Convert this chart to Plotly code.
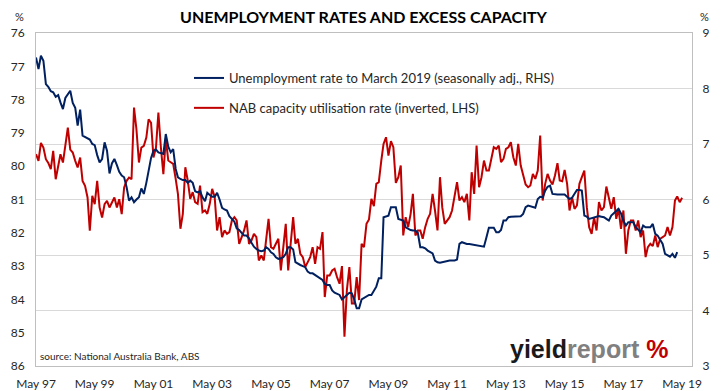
import pandas as pd
import plotly.graph_objects as go

# ---------------- data (monthly, starting May 1997) ----------------
unemployment = [
    8.56, 8.35, 8.59, 8.50, 8.08, 8.03, 7.95, 7.93, 7.85, 7.88, 7.75, 7.63,
    7.83, 7.90, 7.96, 7.74, 7.65, 7.33, 7.62, 7.15, 7.13, 7.11, 7.08, 7.00,
    6.98, 6.80, 6.67, 6.73, 7.03, 6.88, 6.47, 6.65, 6.73, 6.62, 6.50, 6.43,
    6.40, 6.22, 5.98, 6.04, 5.95, 6.00, 6.04, 6.20, 6.10, 6.30, 6.55, 6.75,
    6.88, 6.90, 6.85, 6.84, 6.82, 7.18, 6.95, 6.85, 6.91, 6.55, 6.40, 6.37,
    6.35, 6.35, 6.30, 6.34, 6.30, 6.15, 6.13, 6.15, 6.04, 5.97, 6.12, 6.08,
    6.05, 6.05, 6.12, 6.00, 5.85, 5.82, 5.80, 5.70, 5.65, 5.60, 5.48, 5.45,
    5.40, 5.35, 5.35, 5.30, 5.22, 5.15, 5.11, 5.08, 5.07, 5.08, 5.14, 5.11,
    5.05, 5.02, 4.96, 4.93, 4.94, 4.96, 5.02, 5.14, 5.14, 5.10, 4.87, 4.84,
    4.82, 4.80, 4.78, 4.70, 4.67, 4.67, 4.64, 4.60, 4.58, 4.55, 4.48, 4.46,
    4.46, 4.36, 4.32, 4.30, 4.28, 4.20, 4.24, 4.28, 4.32, 4.31, 4.20, 4.04,
    4.04, 4.20, 4.23, 4.25, 4.28, 4.28, 4.35, 4.43, 4.58, 4.58, 5.68, 5.70,
    5.71, 5.86, 5.86, 5.86, 5.65, 5.63, 5.62, 5.50, 5.47, 5.45, 5.44, 5.44,
    5.40, 5.14, 5.14, 5.12, 5.08, 5.05, 5.03, 4.90, 4.87, 4.86, 4.87, 4.88,
    4.90, 4.90, 4.90, 4.90, 4.92, 5.20, 5.23, 5.21, 5.20, 5.20, 5.19, 5.18,
    5.18, 5.17, 5.16, 5.15, 5.32, 5.49, 5.49, 5.49, 5.41, 5.41, 5.45, 5.62,
    5.62, 5.68, 5.69, 5.69, 5.69, 5.69, 5.70, 5.74, 5.86, 5.89, 5.88, 5.86,
    5.85, 6.01, 6.05, 6.04, 6.16, 6.23, 6.25, 6.10, 6.09, 6.09, 6.09, 6.09,
    6.09, 6.05, 6.01, 6.03, 6.10, 6.17, 6.17, 6.16, 5.71, 5.69, 5.65, 5.66,
    5.68, 5.69, 5.70, 5.69, 5.68, 5.65, 5.62, 5.71, 5.75, 5.80, 5.83, 5.75,
    5.62, 5.53, 5.59, 5.59, 5.59, 5.50, 5.45, 5.41, 5.53, 5.50, 5.50, 5.50,
    5.56, 5.38, 5.35, 5.27, 5.20, 5.02, 5.00, 4.97, 5.02, 4.95, 5.05,
]

capacity_utilisation = [
    79.64, 79.84, 79.30, 79.44, 79.79, 79.90, 80.09, 79.54, 80.39, 80.04, 79.64, 79.89,
    79.44, 78.84, 79.50, 79.59, 79.84, 80.04, 79.74, 80.44, 80.59, 80.94, 81.94, 80.89,
    81.14, 80.44, 81.24, 81.54, 81.14, 81.04, 81.24, 81.10, 80.94, 81.24, 80.99, 81.44,
    80.64, 80.44, 80.34, 80.39, 78.24, 78.89, 79.89, 79.44, 79.39, 79.14, 78.59, 78.70,
    79.74, 79.44, 78.39, 79.44, 80.24, 79.18, 79.83, 79.88, 79.93, 80.38, 80.83, 81.88,
    81.43, 80.03, 80.43, 80.98, 80.78, 81.08, 81.13, 80.58, 81.38, 81.33, 81.43, 81.13,
    80.68, 80.93, 81.93, 81.53, 82.13, 81.93, 82.03, 81.98, 81.63, 81.53, 81.63, 82.33,
    82.13, 81.93, 81.63, 82.33, 82.23, 82.03, 82.13, 82.83, 82.68, 82.83, 82.23, 81.58,
    82.43, 82.48, 82.33, 82.18, 83.13, 82.43, 81.73, 83.13, 82.33, 81.53, 82.33, 82.18,
    82.63, 82.73, 83.03, 82.88, 82.73, 82.43, 82.93, 82.43, 82.48, 81.98, 83.93, 83.28,
    83.28, 83.13, 83.08, 83.33, 83.53, 83.00, 85.12, 83.72, 83.03, 84.12, 84.12, 83.33,
    84.02, 82.33, 82.43, 81.73, 81.60, 80.98, 81.20, 80.53, 80.48, 79.83, 79.33, 79.13,
    79.68, 79.25, 79.43, 80.50, 80.33, 79.98, 82.08, 81.53, 81.83, 81.43, 80.83, 82.08,
    81.93, 81.93, 82.18, 81.83, 81.58, 81.43, 80.83, 81.33, 81.93, 80.33, 81.23, 81.73,
    81.63, 81.53, 81.33, 80.93, 80.48, 81.03, 80.93, 81.08, 80.83, 81.63, 80.18, 80.83,
    79.38, 80.63, 80.33, 79.83, 80.13, 80.13, 79.73, 79.43, 79.48, 79.38, 79.88, 79.78,
    79.48, 79.43, 79.28, 79.73, 79.98, 79.33, 79.98, 80.28, 80.55, 80.63, 80.58, 80.23,
    80.38, 80.13, 79.08, 81.03, 80.53, 80.23, 80.43, 80.55, 80.28, 79.91, 80.43, 80.45,
    80.11, 80.53, 81.33, 80.93, 81.28, 81.18, 80.53, 80.33, 80.13, 81.23, 81.83, 82.03,
    81.53, 81.93, 81.08, 81.33, 81.23, 80.61, 80.93, 81.28, 80.93, 81.58, 81.28, 81.88,
    81.33, 82.63, 81.93, 81.63, 81.63, 81.93, 81.63, 82.13, 81.93, 82.73, 82.43, 82.33,
    82.40, 82.08, 82.43, 82.18, 82.13, 82.08, 81.83, 82.08, 81.83, 81.03, 80.91, 81.08,
    80.95,
]

tick_years = [1997, 1999, 2001, 2003, 2005, 2007, 2009, 2011, 2013, 2015, 2017, 2019]
tick_labels = ["May 97", "May 99", "May 01", "May 03", "May 05", "May 07",
               "May 09", "May 11", "May 13", "May 15", "May 17", "May 19"]

left_ticks = list(range(76, 87))
right_ticks = list(range(3, 10))

# ---------------- figure ----------------
dates_u = pd.date_range("1997-05-01", periods=len(unemployment), freq="MS")
dates_c = pd.date_range("1997-05-01", periods=len(capacity_utilisation), freq="MS")
tick_dates = [pd.Timestamp(f"{y}-05-01") for y in tick_years]

FONT = "Lato"
W, H = 727, 391
ML, MR, MT, MB = 36, 35, 33, 25
pw, ph = W - ML - MR, H - MT - MB

fig = go.Figure()
fig.add_trace(go.Scatter(
    x=dates_u, y=unemployment, yaxis="y2", mode="lines",
    name="Unemployment rate to March 2019 (seasonally adj., RHS)",
    line=dict(color="#002060", width=2), legendgroup="a"))
fig.add_trace(go.Scatter(
    x=dates_c, y=capacity_utilisation, yaxis="y", mode="lines",
    name="NAB capacity utilisation rate (inverted, LHS)",
    line=dict(color="#C00000", width=2), legendgroup="b"))

tickfont = dict(family=FONT, size=12, color="#262626")
fig.update_layout(
    width=W, height=H, autosize=False,
    margin=dict(l=ML, r=MR, t=MT, b=MB, autoexpand=False),
    paper_bgcolor="white", plot_bgcolor="white",
    font=dict(family=FONT, color="#262626"),
    showlegend=True,
    legend=dict(x=(189 - ML) / pw, y=(366 - 63) / ph, xanchor="left", yanchor="top",
                bgcolor="rgba(0,0,0,0)", font=dict(family=FONT, size=13, color="#262626"),
                traceorder="grouped", tracegroupgap=10, itemwidth=30),
    xaxis=dict(type="date", range=["1997-05-01", "2019-09-01"],
               tickvals=tick_dates, ticktext=tick_labels, tickangle=0,
               showgrid=False, zeroline=False, automargin=False,
               showline=True, linecolor="#BFBFBF", linewidth=1, mirror=True,
               ticks="", tickfont=tickfont, ticklabelstandoff=7),
    yaxis=dict(range=[86, 76], tickvals=left_ticks, showgrid=False, zeroline=False,
               showline=True, linecolor="#BFBFBF", linewidth=1, automargin=False,
               ticks="", tickfont=tickfont, ticklabelstandoff=8),
    yaxis2=dict(range=[3, 9], tickvals=right_ticks, overlaying="y", side="right",
                showgrid=True, gridcolor="#D9D9D9", gridwidth=1, zeroline=False,
                showline=True, linecolor="#BFBFBF", linewidth=1, automargin=False,
                ticks="", tickfont=tickfont, ticklabelstandoff=7),
)

ann = []
ann.append(dict(text="<b>UNEMPLOYMENT RATES AND EXCESS CAPACITY</b>", xref="paper", yref="paper",
                x=(363 - ML) / pw, y=(366 - 17) / ph, xanchor="center", yanchor="middle",
                showarrow=False, font=dict(family=FONT, size=16, color="black")))
ann.append(dict(text="%", xref="paper", yref="paper", x=(19 - ML) / pw, y=(366 - 17) / ph,
                xanchor="center", yanchor="middle", showarrow=False,
                font=dict(family=FONT, size=11, color="#262626")))
ann.append(dict(text="%", xref="paper", yref="paper", x=(704 - ML) / pw, y=(366 - 17) / ph,
                xanchor="center", yanchor="middle", showarrow=False,
                font=dict(family=FONT, size=11, color="#262626")))
ann.append(dict(text="source: National Australia Bank, ABS", xref="paper", yref="paper",
                x=(38 - ML) / pw, y=(366 - 356) / ph, xanchor="left", yanchor="middle",
                showarrow=False, font=dict(family=FONT, size=10, color="#262626")))
ann.append(dict(text="<b><span style='color:#1a1a1a'>yield</span><span style='color:#808080'>report</span> "
                     "<span style='color:#C00000'>%</span></b>",
                xref="paper", yref="paper", x=(670 - ML) / pw, y=(366 - 349) / ph,
                xanchor="right", yanchor="middle", showarrow=False,
                font=dict(family="Liberation Sans", size=25)))
fig.update_layout(annotations=ann)

fig.write_html("out.html", config={"displayModeBar": False},
               post_script="document.body.style.margin='0';document.body.style.overflow='hidden';")
